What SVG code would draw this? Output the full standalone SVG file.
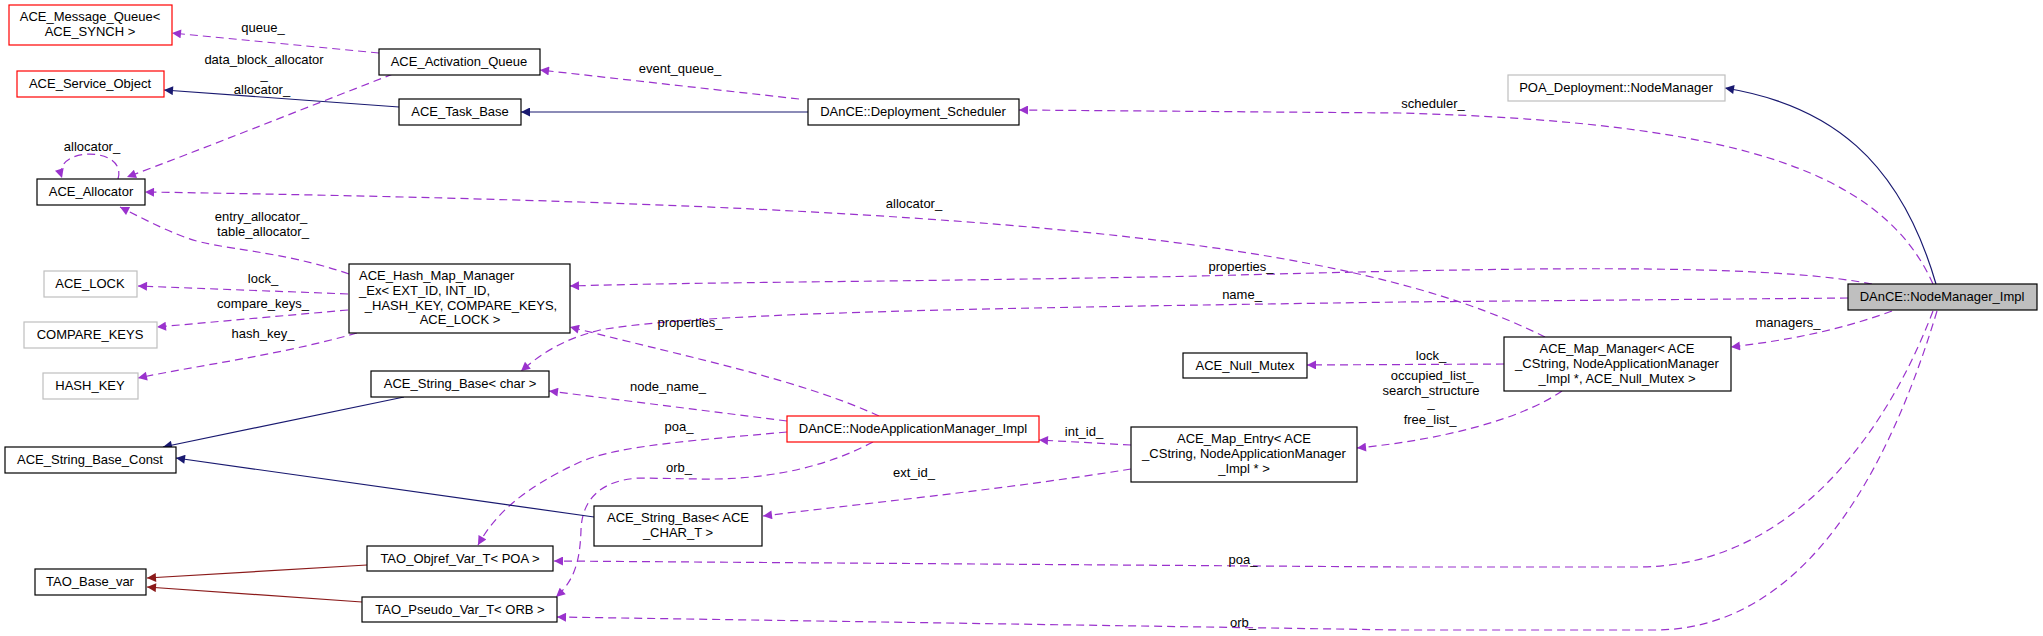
<svg xmlns="http://www.w3.org/2000/svg" width="2043" height="636" viewBox="0 0 2043 636">
<style>
text{font-family:"Liberation Sans",Arial,sans-serif;font-size:13px;fill:#000}
.n text{text-anchor:middle}
.b{fill:#fff;stroke:#000;stroke-width:1.2}
.r{fill:#fff;stroke:#ff0000;stroke-width:1.2}
.g{fill:#fff;stroke:#bfbfbf;stroke-width:1.2}
.cur{fill:#bfbfbf;stroke:#000;stroke-width:1.2}
.u{fill:none;stroke:#9a32cd;stroke-width:1.2;stroke-dasharray:8,5;marker-end:url(#mu)}
.i{fill:none;stroke:#191970;stroke-width:1.2;marker-end:url(#mi)}
.f{fill:none;stroke:#8b1a1a;stroke-width:1.2;marker-end:url(#mf)}
.l{text-anchor:middle}
</style>
<defs>
<marker id="mu" viewBox="0 0 10 10" refX="10" refY="5" markerWidth="11" markerHeight="9" markerUnits="userSpaceOnUse" orient="auto"><path d="M0,0L10,5L0,10z" fill="#9a32cd"/></marker>
<marker id="mi" viewBox="0 0 10 10" refX="10" refY="5" markerWidth="11" markerHeight="9" markerUnits="userSpaceOnUse" orient="auto"><path d="M0,0L10,5L0,10z" fill="#191970"/></marker>
<marker id="mf" viewBox="0 0 10 10" refX="10" refY="5" markerWidth="11" markerHeight="9" markerUnits="userSpaceOnUse" orient="auto"><path d="M0,0L10,5L0,10z" fill="#8b1a1a"/></marker>
</defs>
<rect width="2043" height="636" fill="#fff"/>
<g id="edges">
<path class="u" d="M379,53 L172,33"/><text class="l" x="263" y="32">queue_</text>
<path class="u" d="M393,74 C300,110 200,150 127,177"/><text class="l" x="264" y="64">data_block_allocator</text><text class="l" x="264" y="79">_</text><text class="l" x="262" y="94">allocator_</text>
<path class="i" d="M399,107 L164,90"/>
<path class="i" d="M808,112 L521,112"/>
<path class="u" d="M799,99 L540,70"/><text class="l" x="680" y="73">event_queue_</text>
<path class="u" d="M1933,284 C1880,165 1720,122 1400,113 L1019,110"/><text class="l" x="1433" y="108">scheduler_</text>
<path class="i" d="M1936,284 C1900,160 1830,105 1725,88"/>
<path class="u" d="M1545,337 C1350,240 1000,205 145,192"/><text class="l" x="914" y="208">allocator_</text>
<path class="u" d="M1872,284 C1760,262 1500,268 1200,276 C900,282 700,282 570,286"/><text class="l" x="1241" y="271">properties_</text>
<path class="u" d="M1848,298 L1400,302 C1000,308 700,312 600,330 C560,340 540,355 521,371"/><text class="l" x="1242" y="299">name_</text>
<path class="u" d="M879,416 C800,380 700,360 570,327"/><text class="l" x="690" y="327">properties_</text>
<path class="u" d="M787,421 L549,391"/><text class="l" x="668" y="391">node_name_</text>
<path class="u" d="M787,432 C700,440 620,445 580,462 C520,490 495,515 478,545"/><text class="l" x="679" y="431">poa_</text>
<path class="u" d="M873,442 C820,470 760,480 700,479 L640,478 C600,480 582,500 581,530 C580,560 575,580 556,597"/><text class="l" x="679" y="472">orb_</text>
<path class="u" d="M1131,445 L1039,440"/><text class="l" x="1084" y="436">int_id_</text>
<path class="u" d="M1131,469 C1000,490 850,505 763,516"/><text class="l" x="914" y="477">ext_id_</text>
<path class="u" d="M1504,364 L1307,365"/><text class="l" x="1431" y="360">lock_</text>
<path class="u" d="M1562,391 C1520,420 1440,440 1357,448"/><text class="l" x="1432" y="380">occupied_list_</text><text class="l" x="1431" y="395">search_structure</text><text class="l" x="1431" y="407">_</text><text class="l" x="1430" y="424">free_list_</text>
<path class="u" d="M1892,311 C1840,330 1790,340 1731,347"/><text class="l" x="1788" y="327">managers_</text>
<path class="u" d="M1933,311 C1880,450 1780,567 1638,567 L1400,567 L554,561"/><text class="l" x="1243" y="564">poa_</text>
<path class="u" d="M1937,311 C1880,500 1790,630 1654,630 L1400,630 L557,617"/><text class="l" x="1243" y="627">orb_</text>
<path class="u" d="M349,274 C280,250 220,250 187,238 C160,228 140,217 120,207"/><text class="l" x="261" y="221">entry_allocator_</text><text class="l" x="263" y="236">table_allocator_</text>
<path class="u" d="M118,179 C128,146 52,146 62,178"/><text class="l" x="92" y="151">allocator_</text>
<path class="u" d="M348,294 L138,286"/><text class="l" x="263" y="283">lock_</text>
<path class="u" d="M348,310 L157,327"/><text class="l" x="263" y="308">compare_keys_</text>
<path class="u" d="M357,333 C280,355 200,365 138,378"/><text class="l" x="263" y="338">hash_key_</text>
<path class="i" d="M404,397 L163,447"/>
<path class="i" d="M594,517 L176,458"/>
<path class="f" d="M367,565 L147,578"/>
<path class="f" d="M362,602 L147,587"/>
</g>
<g class="n">
<g id="n_mq"><rect class="r" x="9" y="5" width="163" height="40"/><text x="90" y="21">ACE_Message_Queue&lt;</text><text x="90" y="36">ACE_SYNCH &gt;</text></g>
<g id="n_so"><rect class="r" x="17" y="71" width="147" height="26"/><text x="90" y="88">ACE_Service_Object</text></g>
<g id="n_al"><rect class="b" x="37" y="179" width="108" height="26"/><text x="91" y="196">ACE_Allocator</text></g>
<g id="n_lock"><rect class="g" x="44" y="271" width="93" height="26"/><text x="90" y="288">ACE_LOCK</text></g>
<g id="n_ck"><rect class="g" x="24" y="322" width="133" height="26"/><text x="90" y="339">COMPARE_KEYS</text></g>
<g id="n_hk"><rect class="g" x="43" y="373" width="95" height="26"/><text x="90" y="390">HASH_KEY</text></g>
<g id="n_sbc"><rect class="b" x="5" y="447" width="171" height="26"/><text x="90" y="464">ACE_String_Base_Const</text></g>
<g id="n_tbv"><rect class="b" x="35" y="569" width="111" height="26"/><text x="90" y="586">TAO_Base_var</text></g>
<g id="n_aq"><rect class="b" x="379" y="49" width="161" height="26"/><text x="459" y="66">ACE_Activation_Queue</text></g>
<g id="n_tb"><rect class="b" x="399" y="99" width="122" height="26"/><text x="460" y="116">ACE_Task_Base</text></g>
<g id="n_hm"><rect class="b" x="349" y="264" width="221" height="69"/><text x="359" y="280" style="text-anchor:start">ACE_Hash_Map_Manager</text><text x="359" y="295" style="text-anchor:start">_Ex&lt; EXT_ID, INT_ID,</text><text x="461" y="310">_HASH_KEY, COMPARE_KEYS,</text><text x="460" y="324">ACE_LOCK &gt;</text></g>
<g id="n_sbchar"><rect class="b" x="371" y="371" width="178" height="26"/><text x="460" y="388">ACE_String_Base&lt; char &gt;</text></g>
<g id="n_obj"><rect class="b" x="367" y="546" width="186" height="25"/><text x="460" y="563">TAO_Objref_Var_T&lt; POA &gt;</text></g>
<g id="n_pse"><rect class="b" x="362" y="597" width="195" height="25"/><text x="460" y="614">TAO_Pseudo_Var_T&lt; ORB &gt;</text></g>
<g id="n_sbt"><rect class="b" x="594" y="506" width="168" height="40"/><text x="678" y="522">ACE_String_Base&lt; ACE</text><text x="678" y="537">_CHAR_T &gt;</text></g>
<g id="n_ds"><rect class="b" x="808" y="99" width="211" height="26"/><text x="913" y="116">DAnCE::Deployment_Scheduler</text></g>
<g id="n_nam"><rect class="r" x="787" y="416" width="252" height="26"/><text x="913" y="433">DAnCE::NodeApplicationManager_Impl</text></g>
<g id="n_nm"><rect class="b" x="1183" y="353" width="124" height="25"/><text x="1245" y="370">ACE_Null_Mutex</text></g>
<g id="n_me"><rect class="b" x="1131" y="427" width="226" height="55"/><text x="1244" y="443">ACE_Map_Entry&lt; ACE</text><text x="1244" y="458">_CString, NodeApplicationManager</text><text x="1244" y="473">_Impl * &gt;</text></g>
<g id="n_mm"><rect class="b" x="1504" y="337" width="227" height="54"/><text x="1617" y="353">ACE_Map_Manager&lt; ACE</text><text x="1617" y="368">_CString, NodeApplicationManager</text><text x="1617" y="383">_Impl *, ACE_Null_Mutex &gt;</text></g>
<g id="n_poa"><rect class="g" x="1508" y="75" width="217" height="26"/><text x="1616" y="92">POA_Deployment::NodeManager</text></g>
<g id="n_nmi"><rect class="cur" x="1848" y="284" width="189" height="26"/><text x="1942" y="301">DAnCE::NodeManager_Impl</text></g>
</g>
</svg>
